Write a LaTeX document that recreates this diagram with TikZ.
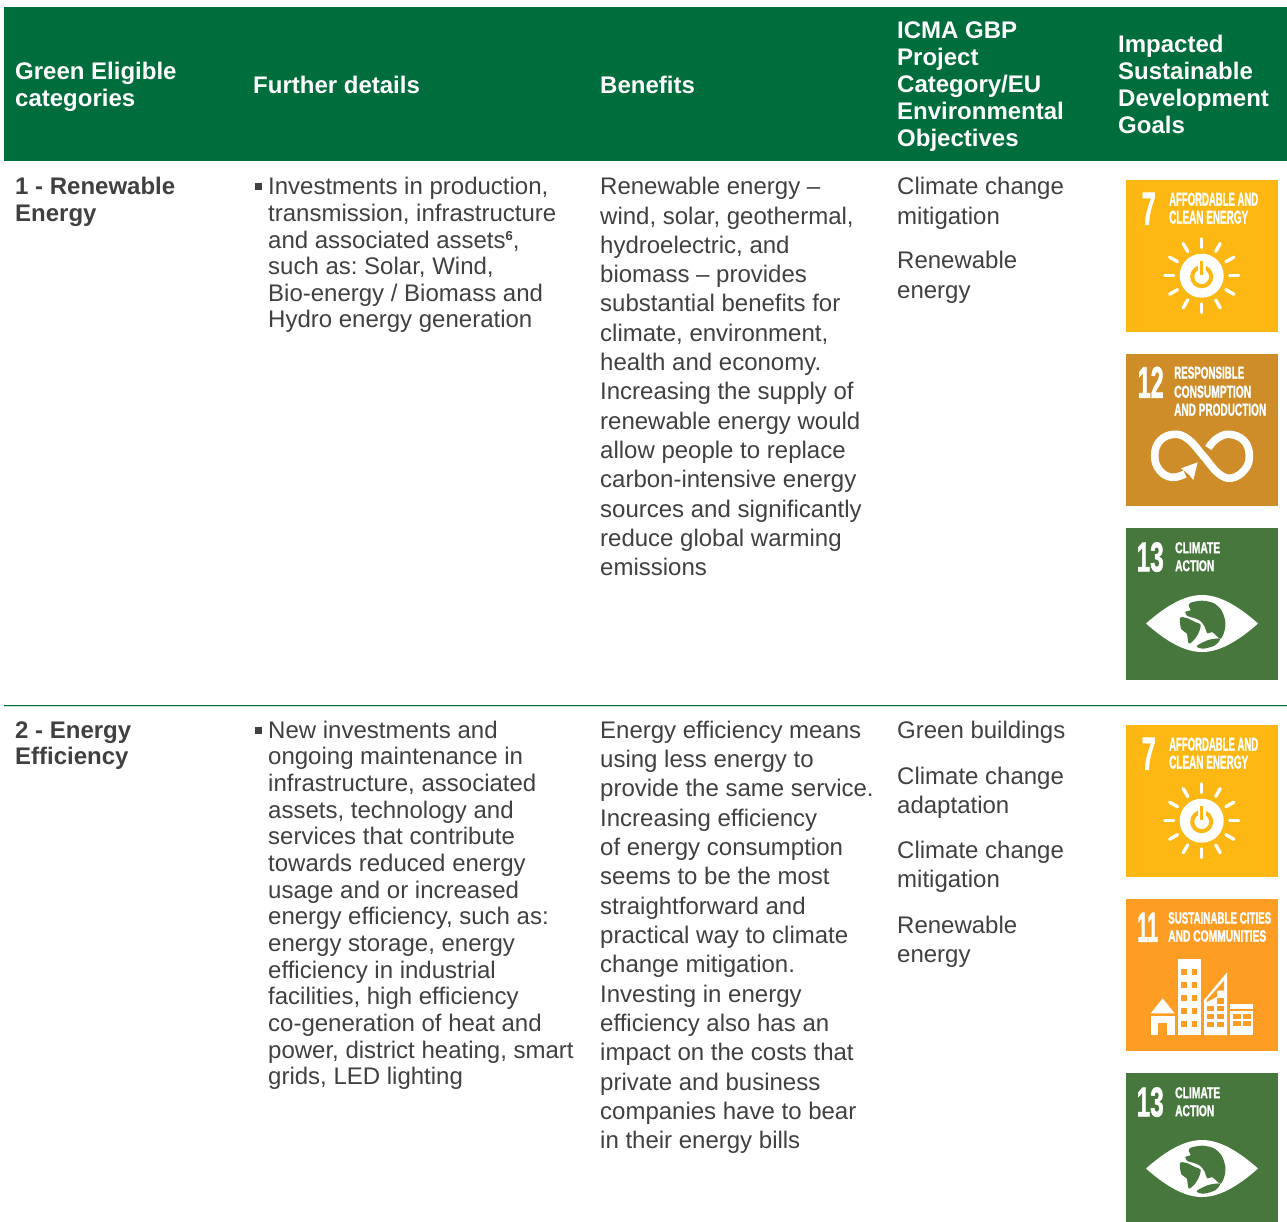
\documentclass[tikz,border=0pt]{standalone}
\usepackage{fontspec}
\usepackage{graphicx}
\setmainfont{Liberation Sans}
\newfontfamily\iconfont[BoldFeatures={FakeBold=1.6}]{Liberation Sans}
\frenchspacing
\definecolor{hdr}{RGB}{0,110,60}
\definecolor{ink}{RGB}{64,64,65}
\definecolor{sdgseven}{RGB}{253,183,19}
\definecolor{sdgtwelve}{RGB}{207,141,42}
\definecolor{sdgthirteen}{RGB}{72,119,62}
\definecolor{sdgeleven}{RGB}{253,157,36}
\tikzset{
  celltext/.style={anchor=north west,inner sep=0pt,align=left,text=ink,font=\frenchspacing\fontsize{24}{26.65}\selectfont},
  leadwide/.style={font=\frenchspacing\fontsize{24}{29.32}\selectfont},
  catlabel/.style={anchor=north west,inner sep=0pt,align=left,text=ink,font=\fontsize{24}{26.6}\selectfont\bfseries},
  headtext/.style={anchor=north west,inner sep=0pt,align=left,text=white,font=\fontsize{24}{27}\selectfont\bfseries},
  icontext/.style={anchor=south west,inner sep=0pt,text=white,font=\iconfont\bfseries},
  raylines/.style={draw=white,line width=3.4pt,line cap=round},
}
\newcommand{\ft}{\rule{0pt}{18pt}}
% fitted icon lettering: name, x, baseline, width, height, text
\newcommand{\ictext}[6]{\node[icontext] (#1) at (#2,#3) {\resizebox{#4pt}{#5pt}{#6}};}
\newcommand{\sdgSeven}[3]{%
\begin{scope}[shift={(#2,#3)}]
\fill[sdgseven] (0,0) rectangle (152,152);
\ictext{#1n}{15.5}{45}{14}{32}{7}
\ictext{#1a}{43}{26}{89}{13}{AFFORDABLE AND}
\ictext{#1b}{43}{44}{79}{13}{CLEAN ENERGY}
\fill[white] (75.7,95.7) circle (22);
\draw[sdgseven,line width=4pt] (75.7,96.7) circle (9.5);
\draw[white,line width=8pt] (75.7,95.7-3) -- (75.7,95.7-16);
\draw[sdgseven,line width=3pt] (75.7,95.7-1) -- (75.7,95.7-15);
\foreach \a in {0,30,...,330}{\draw[raylines] (75.7,95.7) ++(\a:28) -- ++(\a:9);}
\end{scope}}
\newcommand{\sdgThirteen}[3]{%
\begin{scope}[shift={(#2,#3)}]
\fill[sdgthirteen] (0,0) rectangle (152,152);
\ictext{#1n}{10.5}{44}{27}{29}{13}
\ictext{#1a}{49}{25.5}{45}{11}{CLIMATE}
\ictext{#1b}{49}{43.5}{39}{11}{ACTION}
\fill[white] (20,95.5) .. controls (42,76) and (60,67) .. (76,67) .. controls (92,67) and (110,76) .. (132,95.5) .. controls (110,115) and (92,124) .. (76,124) .. controls (60,124) and (42,115) .. (20,95.5) -- cycle;
\begin{scope}[shift={(44,62)},x=0.3333pt,y=-0.3333pt]
\fill[sdgthirteen] plot[smooth cycle,tension=.5] coordinates {(62,38)(97,32)(132,40)(155,62)(166,95)(163,125)(152,146)(138,136)(126,126)(112,130)(103,108)(90,92)(72,84)(52,78)(46,66)(62,60)(56,48)};
\fill[sdgthirteen] plot[smooth cycle,tension=.5] coordinates {(30,84)(50,84)(75,96)(92,104)(86,128)(72,150)(56,160)(50,130)(34,118)};
\fill[sdgthirteen] plot[smooth cycle,tension=.5] coordinates {(80,168)(115,150)(150,146)(135,166)(100,176)};
\end{scope}
\end{scope}}
\begin{document}
\begin{tikzpicture}[x=1pt,y=-1pt]
\useasboundingbox (0,0) rectangle (1287,1221);
\clip (0,0) rectangle (1287,1221);
\fill[white] (0,0) rectangle (1287,1221);
\fill[hdr] (4,7) rectangle (1287,161);
% header
\node[headtext] (h1) at (15,61.5) {\ft Green Eligible\\categories};
\node[headtext] (h2) at (253,75) {\ft Further details};
\node[headtext] (h3) at (600,75) {\ft Benefits};
\node[headtext] (h4) at (897,20) {\ft ICMA GBP\\Project\\Category/EU\\Environmental\\Objectives};
\node[headtext] (h5) at (1118,34) {\ft Impacted\\Sustainable\\Development\\Goals};
% row 1
\node[catlabel] (c1) at (15,176.5) {\ft 1 - Renewable\\Energy};
\fill[ink] (255,183) rectangle (262,190);
\node[celltext] (d1) at (268,176.5) {\ft Investments in production,\\transmission, infrastructure\\and associated assets\raisebox{8pt}{\fontsize{13}{13}\selectfont\bfseries 6},\\such as: Solar, Wind,\\Bio-energy / Biomass and\\Hydro energy generation};
\node[celltext,leadwide] (b1) at (600,176.5) {\ft Renewable energy –\\wind, solar, geothermal,\\hydroelectric, and\\biomass – provides\\substantial benefits for\\climate, environment,\\health and economy.\\Increasing the supply of\\renewable energy would\\allow people to replace\\carbon-intensive energy\\sources and significantly\\reduce global warming\\emissions};
\node[celltext,leadwide] (o1a) at (897,176.5) {\ft Climate change\\mitigation};
\node[celltext,leadwide] (o1b) at (897,250.5) {\ft Renewable\\energy};
\sdgSeven{ia}{1126}{180}
\begin{scope}[shift={(1126,354)}]
\fill[sdgtwelve] (0,0) rectangle (152,152);
\ictext{ibn}{11.5}{44}{26}{31}{12}
\ictext{iba}{48}{25}{70}{12}{RESPONSIBLE}
\ictext{ibb}{48}{44}{77}{12}{CONSUMPTION}
\ictext{ibc}{48}{62}{92}{12}{AND PRODUCTION}
\begin{scope}[shift={(14,66)},x=0.3333pt,y=-0.3333pt]
\draw[white,line width=7.6pt] plot[smooth,tension=.7] coordinates {(135,162)(95,172)(58,150)(44,106)(60,62)(102,43)(145,58)(190,108)(235,160)(275,174)(315,148)(328,106)(312,62)(268,43)(230,56)(205,84)};
\fill[white] (123,145) -- (173,127) -- (160,180) -- (148,165) -- cycle;
\end{scope}
\end{scope}
\sdgThirteen{ic}{1126}{528}
\draw[hdr,line width=1pt] (4,705) -- (1287,705);
\draw[hdr!20,line width=.6pt] (4,706) -- (1287,706);
% row 2
\node[catlabel] (c2) at (15,720) {\ft 2 - Energy\\Efficiency};
\fill[ink] (255,727) rectangle (262,734);
\node[celltext] (d2) at (268,720) {\ft New investments and\\ongoing maintenance in\\infrastructure, associated\\assets, technology and\\services that contribute\\towards reduced energy\\usage and or increased\\energy efficiency, such as:\\energy storage, energy\\efficiency in industrial\\facilities, high efficiency\\co-generation of heat and\\power, district heating, smart\\grids, LED lighting};
\node[celltext,leadwide] (b2) at (600,720) {\ft Energy efficiency means\\using less energy to\\provide the same service.\\Increasing efficiency\\of energy consumption\\seems to be the most\\straightforward and\\practical way to climate\\change mitigation.\\Investing in energy\\efficiency also has an\\impact on the costs that\\private and business\\companies have to bear\\in their energy bills};
\node[celltext] (o2a) at (897,720) {\ft Green buildings};
\node[celltext,leadwide] (o2b) at (897,766) {\ft Climate change\\adaptation};
\node[celltext,leadwide] (o2c) at (897,840) {\ft Climate change\\mitigation};
\node[celltext,leadwide] (o2d) at (897,915) {\ft Renewable\\energy};
\sdgSeven{id}{1126}{725}
\begin{scope}[shift={(1126,899)}]
\fill[sdgeleven] (0,0) rectangle (152,152);
\ictext{ien}{11}{43}{21}{29}{11}
\ictext{iea}{42}{25}{103}{11.5}{SUSTAINABLE CITIES}
\ictext{ieb}{42}{43}{98}{11.5}{AND COMMUNITIES}
\begin{scope}[shift={(14,51)},x=0.3333pt,y=-0.3333pt]
\fill[white] (32,190) -- (68,145) -- (104,190) -- cycle;
\fill[white] (32,197) rectangle (104,255);
\fill[sdgeleven] (55,219) rectangle (80,255);
\fill[white] (113,26) rectangle (183,255);
\foreach \yy in {57,97,135,173,212}{\fill[sdgeleven] (124,\yy) rectangle (141,\yy+18);\fill[sdgeleven] (155,\yy) rectangle (172,\yy+18);}
\fill[white] (192,255) -- (192,150) -- (261,67) -- (261,255) -- cycle;
\fill[sdgeleven] (200,150) -- (252,92) -- (252,122) -- (231,122) -- (231,140) -- (200,156) -- cycle;
\foreach \yy in {168,191,216}{\foreach \xx in {201,231}{\fill[sdgeleven] (\xx,\yy) rectangle (\xx+22,\yy+16);}}
\fill[sdgeleven] (231,145) rectangle (253,161);
\fill[white] (270,162) rectangle (340,178);
\fill[white] (270,184) rectangle (340,255);
\foreach \yy in {193,214}{\foreach \xx in {279,310}{\fill[sdgeleven] (\xx,\yy) rectangle (\xx+23,\yy+14);}}
\end{scope}
\end{scope}
\sdgThirteen{if}{1126}{1073}
\end{tikzpicture}
\end{document}
